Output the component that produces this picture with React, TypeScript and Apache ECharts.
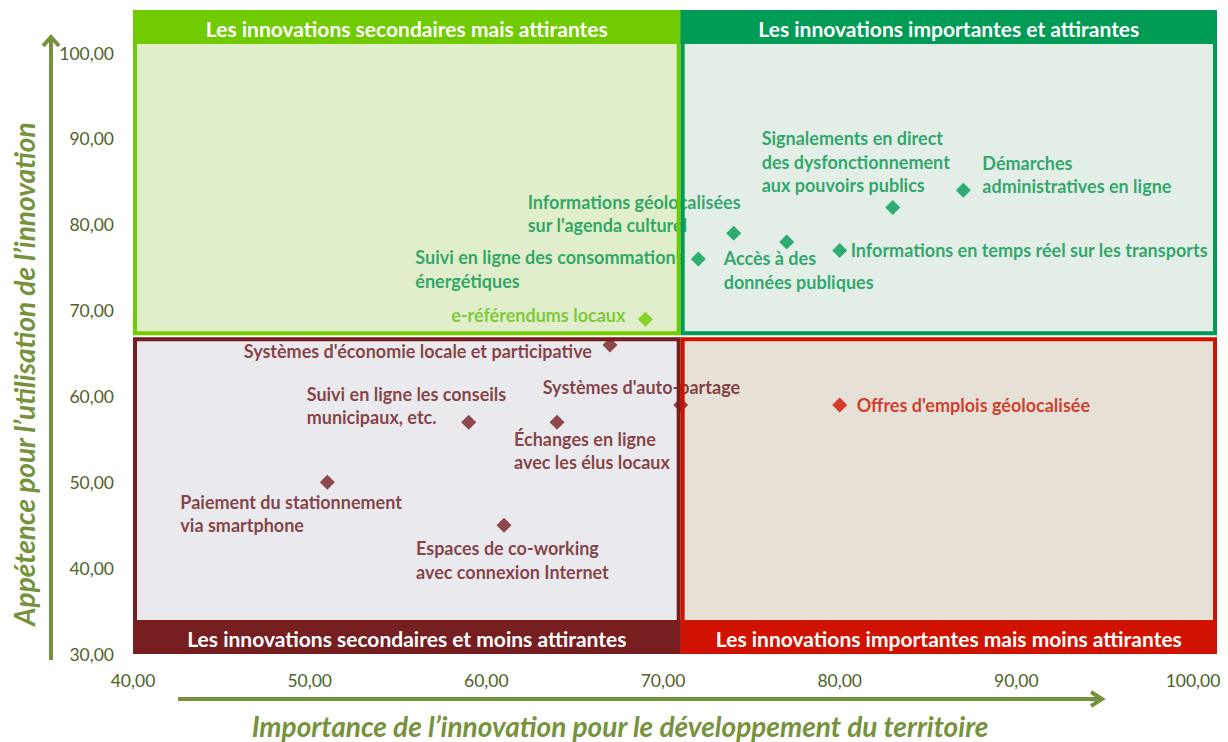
import { useEffect, useRef } from "react";
import * as echarts from "echarts";

// ---- data ----
const innovations = [
  "Démarches\nadministratives en ligne",
  "Signalements en direct\ndes dysfonctionnement\naux pouvoirs publics",
  "Informations en temps réel sur les transports",
  "Accès à des\ndonnées publiques",
  "Informations géolocalisées\nsur l'agenda culturel",
  "Suivi en ligne des consommations\nénergétiques",
  "e-référendums locaux",
  "Systèmes d'économie locale et participative",
  "Systèmes d'auto-partage",
  "Suivi en ligne les conseils\nmunicipaux, etc.",
  "Échanges en ligne\navec les élus locaux",
  "Paiement du stationnement\nvia smartphone",
  "Espaces de co-working\navec connexion Internet",
  "Offres d'emplois géolocalisée",
];
const importance = [87, 83, 80, 77, 74, 72, 69, 67, 71, 59, 64, 51, 61, 80];
const appetence = [84, 82, 77, 78, 79, 76, 69, 66, 59, 57, 57, 50, 45, 59];
const quadrantOf = ["IA", "IA", "IA", "IA", "IA", "IA", "SA", "SM", "SM", "SM", "SM", "SM", "SM", "IM"];
const quadrantKeys = ["SA", "IA", "SM", "IM"];
const quadrantTitles: Record<string, string> = {
  SA: "Les innovations secondaires mais attirantes",
  IA: "Les innovations importantes et attirantes",
  SM: "Les innovations secondaires et moins attirantes",
  IM: "Les innovations importantes mais moins attirantes",
};
const splitImportance = 71;
const splitAppetence = 67;
const xAxisTitle = "Importance de l’innovation pour le développement du territoire";
const yAxisTitle = "Appétence pour l’utilisation de l’innovation";

// ---- styles / layout ----
const quadrantStyle: Record<string, { main: string; fill: string; label: string }> = {
  SA: { main: "#70CC00", fill: "#E0EECB", label: "#66C010" },
  IA: { main: "#009B55", fill: "#E3EEE7", label: "#00944C" },
  SM: { main: "#771E21", fill: "#EAE9EE", label: "#6A1518" },
  IM: { main: "#D21200", fill: "#E6E0D6", label: "#C81200" },
};
// label placement relative to point centre: [dx, dy, align]
const labelPlacement: [number, number, string][] = [
  [19, -16, "left"],
  [-131, -46, "left"],
  [11, 0, "left"],
  [-63, 28, "left"],
  [-206, -20, "left"],
  [-283, 10, "left"],
  [-20, -4, "right"],
  [-18, 6, "right"],
  [-138, -18, "left"],
  [-162, -16.5, "left"],
  [-43, 28.5, "left"],
  [-147, 31, "left"],
  [-88, 35, "left"],
  [17, 0, "left"],
];

const FONT = "Lato, 'Open Sans', sans-serif";
const axisColor = "#4F6228";
const titleColor = "#76923C";

export default function App() {
  const ref = useRef<HTMLDivElement>(null);
  useEffect(() => {
    if (!ref.current) return;
    const chart = echarts.init(ref.current, undefined, { renderer: "svg" });
    const series = quadrantKeys.map((q) => ({
      type: "scatter",
      name: q,
      z: 2,
      symbol: "diamond",
      symbolSize: 15,
      itemStyle: { color: quadrantStyle[q].main },
      data: innovations
        .map((name, i) => ({ i, name }))
        .filter((d) => quadrantOf[d.i] === q)
        .map((d) => ({
          name: d.name,
          value: [importance[d.i], appetence[d.i]],
          label: {
            show: true,
            position: "inside",
            align: labelPlacement[d.i][2],
            verticalAlign: "middle",
            offset: [labelPlacement[d.i][0], labelPlacement[d.i][1]],
            formatter: "{b}",
            color: quadrantStyle[q].label,
            fontFamily: FONT,
            fontWeight: "bold",
            fontSize: 18,
            lineHeight: 23.5,
          },
        })),
    }));
    chart.setOption({
      animation: false,
      backgroundColor: "#ffffff",
      grid: { left: 133, right: 35, top: 53, bottom: 88, containLabel: false },
      xAxis: {
        type: "value",
        min: 40,
        max: 100,
        interval: 10,
        axisLine: { show: false },
        axisTick: { show: false },
        splitLine: { show: false },
        axisLabel: {
          margin: 17,
          color: axisColor,
          fontFamily: FONT,
          fontSize: 17.5,
          formatter: (v: number) => v.toFixed(2).replace(".", ","),
        },
      },
      yAxis: {
        type: "value",
        min: 30,
        max: 100,
        interval: 10,
        axisLine: { show: false },
        axisTick: { show: false },
        splitLine: { show: false },
        axisLabel: {
          margin: 19,
          color: axisColor,
          fontFamily: FONT,
          fontSize: 17.5,
          formatter: (v: number) => v.toFixed(2).replace(".", ","),
        },
      },
      series,
    });

    const [x0, y0] = chart.convertToPixel({ gridIndex: 0 }, [40, 30]) as number[];
    const [x1, y1] = chart.convertToPixel({ gridIndex: 0 }, [100, 100]) as number[];
    const [sx, sy] = chart.convertToPixel({ gridIndex: 0 }, [splitImportance, splitAppetence]) as number[];
    const L = x0, R = x1 + 24, T = y1 - 43, B = y0;
    const boxes: Record<string, { x: number; y: number; w: number; h: number; top: boolean }> = {
      SA: { x: L, y: T, w: sx - L, h: sy - 1 - T, top: true },
      IA: { x: sx, y: T, w: R - sx, h: sy - 1 - T, top: true },
      SM: { x: L, y: sy + 1, w: sx - L, h: B - sy - 1, top: false },
      IM: { x: sx, y: sy + 1, w: R - sx, h: B - sy - 1, top: false },
    };
    const band = 34;
    const graphic: any[] = [];
    quadrantKeys.forEach((q) => {
      const b = boxes[q];
      const st = quadrantStyle[q];
      graphic.push({
        type: "rect",
        z: 0,
        shape: { x: b.x, y: b.y, width: b.w, height: b.h },
        style: { fill: st.fill },
      });
      graphic.push({
        type: "rect",
        z: 10,
        shape: { x: b.x + 2, y: b.y + 2, width: b.w - 4, height: b.h - 4 },
        style: { fill: "none", stroke: st.main, lineWidth: 4 },
      });
      const by = b.top ? b.y : b.y + b.h - band;
      graphic.push({
        type: "rect",
        z: 10,
        shape: { x: b.x, y: by, width: b.w, height: band },
        style: { fill: st.main },
      });
      graphic.push({
        type: "text",
        z: 11,
        x: b.x + b.w / 2,
        y: by + band / 2 + 1,
        style: {
          text: quadrantTitles[q],
          fill: "#ffffff",
          font: `bold 21px ${FONT}`,
          align: "center",
          verticalAlign: "middle",
        },
      });
    });
    // axis arrows
    graphic.push({
      type: "line",
      z: 1,
      shape: { x1: 51, y1: y0 + 6, x2: 51, y2: 38 },
      style: { stroke: titleColor, lineWidth: 4 },
    });
    graphic.push({
      type: "polyline",
      z: 1,
      shape: { points: [[43, 46], [51, 37], [59, 46]] },
      style: { stroke: titleColor, lineWidth: 4, fill: "none" },
    });
    graphic.push({
      type: "line",
      z: 1,
      shape: { x1: 178, y1: 699, x2: 1101, y2: 699 },
      style: { stroke: titleColor, lineWidth: 4 },
    });
    graphic.push({
      type: "polyline",
      z: 1,
      shape: { points: [[1091, 692], [1102, 699], [1091, 706]] },
      style: { stroke: titleColor, lineWidth: 4, fill: "none" },
    });
    graphic.push({
      type: "text",
      z: 1,
      x: 620,
      y: 726,
      style: {
        text: xAxisTitle,
        fill: titleColor,
        font: `italic bold 28px ${FONT}`,
        align: "center",
        verticalAlign: "middle",
      },
    });
    graphic.push({
      type: "text",
      z: 1,
      x: 24,
      y: 374,
      rotation: Math.PI / 2,
      style: {
        text: yAxisTitle,
        fill: titleColor,
        font: `italic bold 28px ${FONT}`,
        align: "center",
        verticalAlign: "middle",
      },
    });
    chart.setOption({ graphic });
    return () => chart.dispose();
  }, []);
  return (
    <div
      ref={ref}
      style={{ position: "absolute", left: 0, top: 0, width: 1228, height: 742 }}
    />
  );
}
